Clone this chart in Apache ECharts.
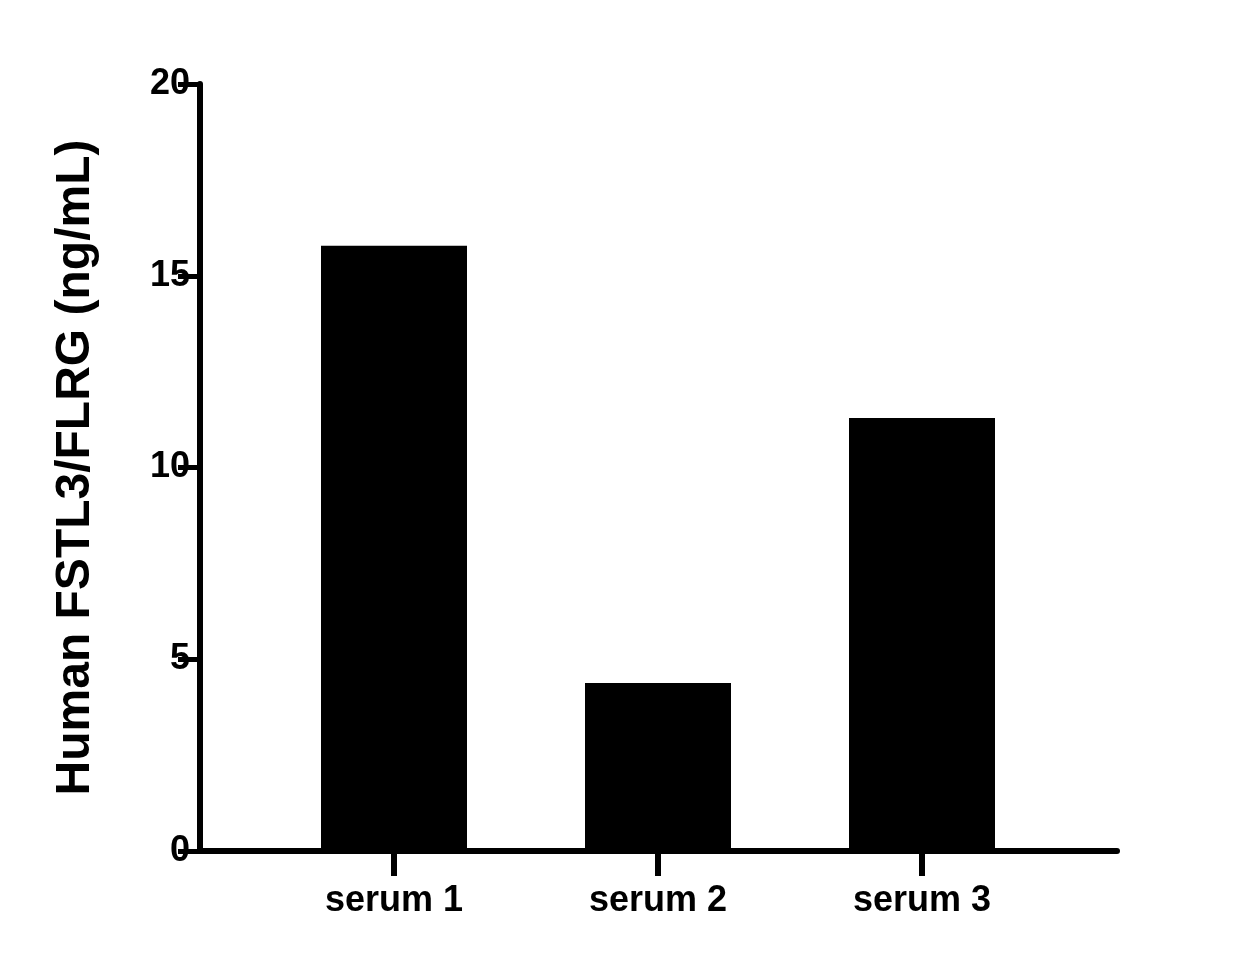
<!DOCTYPE html>
<html><head><meta charset="utf-8">
<script src="https://cdn.jsdelivr.net/npm/echarts@6/dist/echarts.min.js"></script>
<style>html,body{margin:0;background:#fff}#c{width:1252px;height:972px}</style>
</head><body><div id="c"></div>
<script>
const categories = ['serum 1', 'serum 2', 'serum 3'];
const values = [15.78, 4.38, 11.29];
const yTitle = 'Human FSTL3/FLRG (ng/mL)';
const font = 'Liberation Sans, Arial, sans-serif';
const chart = echarts.init(document.getElementById('c'));
chart.setOption({
  animation: false,
  grid: [
    {left: 262, width: 792, top: 84, bottom: 121},
    {left: 200, width: 917, top: 84, bottom: 121}
  ],
  xAxis: [
    {gridIndex: 0, type: 'category', data: categories,
     axisLine: {show: false},
     axisTick: {show: true, alignWithLabel: true, length: 25, lineStyle: {width: 6, color: '#000'}},
     axisLabel: {color: '#000', fontSize: 36, fontWeight: 'bold', fontFamily: font, margin: 32}},
    {gridIndex: 1, type: 'value', min: 0, max: 1, show: true,
     axisLine: {show: true, onZero: false, lineStyle: {width: 6, color: '#000'}},
     axisTick: {show: false}, axisLabel: {show: false}, splitLine: {show: false}}
  ],
  yAxis: [
    {gridIndex: 0, type: 'value', min: 0, max: 20, show: false},
    {gridIndex: 1, type: 'value', min: 0, max: 20, interval: 5,
     name: yTitle, nameLocation: 'middle', nameGap: 100,
     nameTextStyle: {color: '#000', fontSize: 48, fontWeight: 'bold', fontFamily: font},
     axisLine: {show: true, lineStyle: {width: 6, color: '#000'}},
     axisTick: {show: true, length: 22, lineStyle: {width: 5, color: '#000'}},
     axisLabel: {color: '#000', fontSize: 36, fontWeight: 'bold', fontFamily: font, margin: 10},
     splitLine: {show: false}}
  ],
  series: [
    {type: 'bar', xAxisIndex: 0, yAxisIndex: 0, data: values, barWidth: 146,
     itemStyle: {color: '#000'}}
  ]
});
</script></body></html>
